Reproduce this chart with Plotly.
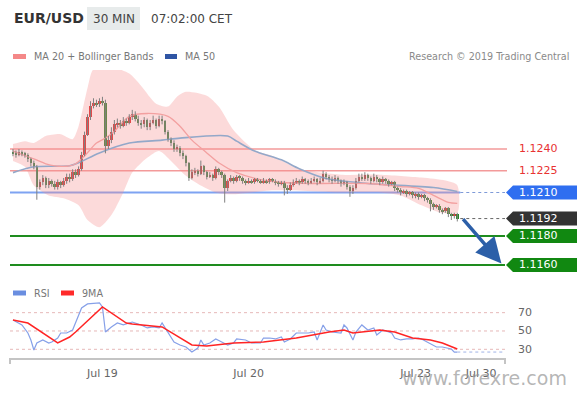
import plotly.graph_objects as go

# ---------------- data (prices in pips above BASE) ----------------
BASE = 1.12
PIP = 0.0001

opens_p = [38,37,36,38,37,36,33,30,28,14,
           17,20,15,18,16,14,17,15,18,21,
           19,24,22,26,36,50,62,70,72,71,
           73,72,42,46,52,57,58,56,59,58,
           62,64,61,58,57,60,55,58,60,56,
           61,59,52,47,44,40,41,37,35,30,
           20,24,25,23,28,24,21,22,20,26,
           24,22,13,18,20,18,21,20,18,17,
           18,17,19,18,17,18,17,19,18,17,
           16,17,13,12,15,17,18,17,19,18,
           17,18,19,17,18,23,21,19,18,20,
           18,16,17,14,11,13,18,21,19,22,
           20,18,21,19,17,19,18,16,17,13,
           12,10,11,9,10,8,9,7,8,6,
           5,2,0,1,-2,-3,-1,-5,-6,-5]
closes_p = [37,36,38,37,36,33,30,28,14,17,
            20,15,18,16,14,17,15,18,21,19,
            24,22,26,36,50,62,70,72,71,73,
            72,42,46,52,57,58,56,59,58,62,
            64,61,58,57,60,55,58,60,56,61,
            59,52,47,44,40,41,37,35,30,20,
            24,25,23,28,24,21,22,20,26,24,
            22,13,18,20,18,21,20,18,17,18,
            17,19,18,17,18,17,19,18,17,16,
            17,13,12,15,17,18,17,19,18,17,
            18,19,17,18,23,21,19,18,20,18,
            16,17,14,11,13,18,21,19,22,20,
            18,21,19,17,19,18,16,17,13,12,
            10,11,9,10,8,9,7,8,6,5,
            2,0,1,-2,-3,-1,-5,-6,-5,-8]
highs_p = [40,39,40,39,38,37,34,32,29,19,
           22,21,20,19,18,19,18,20,23,23,
           26,26,28,38,52,64,73,75,74,75,
           76,74,49,55,60,61,60,62,61,64,
           67,66,63,60,62,61,60,63,61,63,
           63,60,53,48,46,43,42,39,36,31,
           26,27,26,32,29,25,24,23,28,27,
           25,23,19,22,21,22,22,21,19,20,
           19,20,20,19,20,19,20,20,19,18,
           18,18,15,17,19,20,19,21,20,19,
           20,21,20,20,25,24,22,21,22,21,
           19,19,18,15,15,20,23,23,24,23,
           21,23,22,20,21,20,19,18,18,14,
           13,12,12,11,11,10,10,9,9,7,
           6,3,2,2,-1,0,0,-4,-4,-4]
lows_p = [35,34,35,35,34,31,28,26,5,12,
          15,13,13,14,12,12,13,14,16,17,
          18,20,21,25,35,49,60,68,69,69,
          70,37,40,44,50,55,54,55,56,57,
          60,59,56,54,55,53,53,57,54,55,
          57,50,45,42,38,38,35,33,28,18,
          19,22,21,22,22,19,20,18,19,22,
          20,3,11,17,16,17,18,16,15,16,
          16,16,17,16,16,16,16,17,15,14,
          15,8,9,11,14,16,15,16,16,15,
          16,17,15,16,17,19,17,16,17,16,
          14,15,12,7,9,12,17,18,18,18,
          16,17,17,15,16,16,14,15,11,10,
          8,9,7,8,6,6,5,6,4,3,
          -3,-2,-1,-4,-5,-4,-7,-9,-8,-10]

# indicator readings (candle index, pips)
bb_up_idx = [0,4,7,11,16,20,22,25,27,34,39,43,48,52,55,58,65,69,74,81,87,96,110,123,137,145,149]
bb_up_p = [43.4,45.4,44.1,48.9,50.2,46.8,55.7,82.0,95.0,96.0,92.0,83.5,71.3,69.3,76.1,79.5,76.8,69.3,52.9,39.3,35.2,26.4,22.3,22.3,20.3,18.2,15.0]
bb_lo_idx = [0,4,7,12,17,22,25,29,33,37,40,45,49,53,58,63,68,73,80,86,96,110,123,130,137,143,149]
bb_lo_p = [31.8,27.7,14.8,8.0,6.0,1.2,-9.0,-14.0,-5.6,10.0,23.7,33.9,38.6,31.8,21.6,14.8,10.0,8.7,10.0,11.4,11.4,10.0,10.0,8.0,1.2,-3.6,-4.0]
ma20_idx = [0,7,11,14,19,21,24,28,31,34,39,45,52,56,60,65,69,75,83,91,102,119,130,136,141,146,149]
ma20_p = [38.6,33.2,29.8,28.4,28.4,29.8,35.2,44.1,47.5,52.3,62.5,64.5,62.5,55.7,46.1,37.3,30.5,23.7,18.9,16.9,16.2,16.2,14.1,12.8,8.0,3.2,2.5]
ma50_idx = [0,7,19,22,29,39,50,56,72,75,81,90,96,105,119,141,149]
ma50_p = [23.7,27.7,28.4,30.5,37.3,44.1,46.1,47.5,48.9,45.4,38.6,32.5,26.4,19.6,16.2,13.4,10.7]

rsi_idx = [0,2,3,5,6,7,8,10,12,13,15,16,18,20,21,23,25,29,30,31,33,35,37,40,43,45,47,49,50,52,
           54,56,58,60,62,63,64,66,68,70,72,74,75,78,80,83,84,86,88,90,91,93,95,99,101,102,104,105,107,110,
           111,112,114,115,117,119,121,122,124,127,128,130,132,134,136,137,139,141,142,144,147,148,149]
rsi_val = [62.0,58.7,56.6,47.8,40.2,29.2,36.9,40.2,36.9,38.0,42.3,47.8,47.8,51.1,58.7,75.1,79.5,80.6,76.2,48.9,
           54.4,58.7,56.6,59.8,56.6,53.3,54.4,53.3,58.7,47.8,38.0,34.7,32.5,27.0,31.4,40.2,34.7,36.9,41.3,38.0,
           34.7,36.9,41.3,40.2,36.9,36.9,42.3,42.3,41.3,43.4,38.0,41.3,47.8,47.8,48.9,40.2,56.6,51.1,48.9,47.8,
           56.6,53.3,40.2,48.9,56.6,51.1,53.3,45.6,51.1,47.8,42.3,40.2,41.3,41.3,42.3,41.3,38.0,34.7,32.5,32.5,
           30.3,27.0,27.0]
ma9_idx = [0,5,15,19,21,30,38,40,50,60,65,74,84,95,106,111,114,117,123,128,134,140,144,149]
ma9_val = [62.0,58.7,36.9,43.4,48.9,76.2,58.7,57.7,54.4,34.7,33.6,36.9,38.0,42.3,48.9,51.1,47.8,48.9,51.1,48.9,42.3,40.2,36.9,30.3]

tick_pos = [30, 79, 135, 157]
tick_labels = ["Jul 19", "Jul 20", "Jul 23", "Jul 30"]

resist_levels = [1.1240, 1.1225]
pivot_level = 1.1210
last_price = 1.1192
support_levels = [1.1180, 1.1160]
target_price = 1.1161
rsi_levels = [70, 50, 30]

assert len(opens_p) == len(closes_p) == len(highs_p) == len(lows_p) == 150

# ---------------- helpers ----------------
def price(v):
    return BASE + v * PIP

X0, X1 = -1, 165           # x range (candle index)
def PX(p):                 # pixel x -> paper
    return (p - 10) / 495.0
def PY(p):                 # pixel y -> paper
    return (358 - p) / 288.0

FONT = "DejaVu Sans"
n = len(closes_p)
idx = list(range(n))
o = [price(v) for v in opens_p]
c = [price(v) for v in closes_p]
h = [price(v) for v in highs_p]
l = [price(v) for v in lows_p]

fig = go.Figure()

# Bollinger band fill
band_x = bb_up_idx + bb_lo_idx[::-1]
band_y = [price(v) for v in bb_up_p] + [price(v) for v in bb_lo_p][::-1]
fig.add_trace(go.Scatter(x=band_x, y=band_y, fill="toself", mode="lines",
                         line=dict(width=0, shape="spline", smoothing=0.7),
                         fillcolor="rgba(247,140,140,0.32)", hoverinfo="skip"))
fig.add_trace(go.Scatter(x=ma50_idx, y=[price(v) for v in ma50_p], mode="lines",
                         line=dict(color="#93a8c9", width=1.6, shape="spline", smoothing=0.8)))
fig.add_trace(go.Scatter(x=ma20_idx, y=[price(v) for v in ma20_p], mode="lines",
                         line=dict(color="#f3a0a0", width=1.3, shape="spline", smoothing=0.8)))

# wicks
wx, wy = [], []
for i in idx:
    wx += [i, i, None]
    wy += [l[i], h[i], None]
fig.add_trace(go.Scatter(x=wx, y=wy, mode="lines", line=dict(color="#808080", width=1),
                         hoverinfo="skip"))
# bodies
body_col = ["#d82c2c" if c[i] > o[i] else "#2b862b" for i in idx]
fig.add_trace(go.Bar(x=idx, y=[abs(c[i] - o[i]) for i in idx], base=[min(o[i], c[i]) for i in idx],
                     marker=dict(color=body_col, line=dict(width=0)), width=0.85))

# RSI panel
fig.add_trace(go.Scatter(x=rsi_idx, y=rsi_val, mode="lines", xaxis="x2", yaxis="y2",
                         line=dict(color="#86a0e8", width=1.2)))
fig.add_trace(go.Scatter(x=ma9_idx, y=ma9_val, mode="lines", xaxis="x2", yaxis="y2",
                         line=dict(color="#ff2424", width=1.5)))

shapes = []
# resistance lines
for lv in resist_levels:
    shapes.append(dict(type="line", xref="paper", yref="y", x0=0, x1=PX(507), y0=lv, y1=lv,
                       line=dict(color="#f39a9a", width=1.5), layer="below"))
# pivot
shapes.append(dict(type="line", xref="x", yref="y", x0=X0, x1=n, y0=pivot_level, y1=pivot_level,
                   line=dict(color="#7ea3f2", width=2), layer="below"))
shapes.append(dict(type="line", xref="x", yref="y", x0=n, x1=X1, y0=pivot_level, y1=pivot_level,
                   line=dict(color="#7e9ad8", width=1.2, dash="dot")))
# last price
shapes.append(dict(type="line", xref="x", yref="y", x0=n, x1=X1, y0=last_price, y1=last_price,
                   line=dict(color="#666666", width=1, dash="dot")))
# supports
for lv in support_levels:
    shapes.append(dict(type="line", xref="x", yref="y", x0=X0, x1=X1, y0=lv, y1=lv,
                       line=dict(color="#1e8c1e", width=2), layer="below"))

# right-hand labels
HH = 7 / 14500.0
def tag(level, color):
    xt, xb, xr = PX(506), PX(513), PX(577)
    path = (f"M {xt},{level} L {xb},{level + HH} L {xr},{level + HH} "
            f"L {xr},{level - HH} L {xb},{level - HH} Z")
    shapes.append(dict(type="path", xref="paper", yref="y", path=path,
                       fillcolor=color, line=dict(width=0)))

tag(pivot_level, "#2f6ef0")
tag(last_price, "#333333")
for lv in support_levels:
    tag(lv, "#118811")

annotations = []
for lv in resist_levels:
    annotations.append(dict(x=PX(517), y=lv, xref="paper", yref="y", xanchor="left", yanchor="middle",
                            text=f"{lv:.4f}", showarrow=False, font=dict(family=FONT, size=11, color="#e83232")))
for lv in [pivot_level, last_price] + support_levels:
    annotations.append(dict(x=PX(517), y=lv, xref="paper", yref="y", xanchor="left", yanchor="middle",
                            text=f"{lv:.4f}", showarrow=False, font=dict(family=FONT, size=11, color="white")))

# arrow
annotations.append(dict(x=X1 - 1.2, y=target_price, xref="x", yref="y", ax=n + 0.8, ay=last_price,
                        axref="x", ayref="y", text="", showarrow=True, arrowhead=2, arrowsize=1.45,
                        arrowwidth=3.5, arrowcolor="#2c5fa8", standoff=0, startstandoff=0,
                        font=dict(size=1), borderpad=0))

# RSI grid + labels
for lv in rsi_levels:
    shapes.append(dict(type="line", xref="x2", yref="y2", x0=X0, x1=X1, y0=lv, y1=lv,
                       line=dict(color="#e6b8b8", width=1, dash="dot"), layer="below"))
    annotations.append(dict(x=PX(516), y=lv, xref="paper", yref="y2", xanchor="left", yanchor="middle",
                            text=str(lv), showarrow=False, font=dict(family=FONT, size=11, color="#666")))
shapes.append(dict(type="line", xref="x2", yref="y2", x0=rsi_idx[-1], x1=X1, y0=rsi_val[-1], y1=rsi_val[-1],
                   line=dict(color="#9fb2e6", width=1, dash="dot")))
# axis end caps
for xx in (0, 1):
    shapes.append(dict(type="line", xref="paper", yref="paper", x0=xx, x1=xx, y0=PY(358), y1=PY(364),
                       line=dict(color="#c4c4c4", width=2)))

# header
shapes.append(dict(type="rect", xref="paper", yref="paper", x0=PX(87), x1=PX(140), y0=PY(30), y1=PY(7),
                   fillcolor="#e7ebeb", line=dict(width=0)))
annotations += [
    dict(x=PX(12), y=PY(18), xref="paper", yref="paper", xanchor="left", yanchor="middle", showarrow=False,
         text="<b>EUR/USD</b>", font=dict(family=FONT, size=14, color="#333")),
    dict(x=PX(113.5), y=PY(18.5), xref="paper", yref="paper", xanchor="center", yanchor="middle", showarrow=False,
         text="30 MIN", font=dict(family=FONT, size=12, color="#444")),
    dict(x=PX(149), y=PY(18.5), xref="paper", yref="paper", xanchor="left", yanchor="middle", showarrow=False,
         text="07:02:00 CET", font=dict(family=FONT, size=12, color="#444")),
]

# legends
def swatch(x0, x1, yc, color):
    shapes.append(dict(type="rect", xref="paper", yref="paper", x0=PX(x0), x1=PX(x1),
                       y0=PY(yc + 2.5), y1=PY(yc - 2.5), fillcolor=color, line=dict(width=0)))

def label(x, yc, text, color="#777", size=9.6, anchor="left"):
    annotations.append(dict(x=PX(x), y=PY(yc), xref="paper", yref="paper", xanchor=anchor, yanchor="middle",
                            showarrow=False, text=text, font=dict(family=FONT, size=size, color=color)))

swatch(13, 26, 56.5, "#f48888")
label(32, 56.5, "MA 20 + Bollinger Bands")
swatch(165, 177, 56.5, "#2f55a4")
label(183, 56.5, "MA 50")
label(571, 56.5, "Research © 2019 Trading Central", color="#8a8a8a", anchor="right")
swatch(13, 26, 293, "#6a8ee0")
label(32, 293, "RSI")
swatch(61, 74, 293, "#ff2a2a")
label(80, 293, "9MA")

# watermark
annotations.append(dict(x=PX(400), y=PY(378), xref="paper", yref="paper", xanchor="left", yanchor="middle",
                        showarrow=False, text="www.forexre.com",
                        font=dict(family=FONT, size=19, color="rgba(150,150,150,0.7)")))

fig.update_layout(
    width=580, height=393,
    margin=dict(l=10, r=75, t=70, b=35),
    paper_bgcolor="white", plot_bgcolor="white",
    showlegend=False, barmode="overlay", bargap=0,
    font=dict(family=FONT),
    xaxis=dict(domain=[0, 1], range=[X0, X1], anchor="y", visible=False),
    yaxis=dict(domain=[0.2778, 1], range=[1.11510, 1.12945], visible=False),
    xaxis2=dict(domain=[0, 1], range=[X0, X1], anchor="y2", showline=True, linecolor="#c4c4c4",
                linewidth=2, tickvals=tick_pos, ticktext=tick_labels, ticks="outside", ticklen=4,
                tickcolor="rgba(0,0,0,0)", tickfont=dict(family=FONT, size=11, color="#666"),
                showgrid=False, zeroline=False),
    yaxis2=dict(domain=[0, 0.2083], range=[20.5, 86], visible=False),
    shapes=shapes, annotations=annotations,
)

fig.write_html("out.html", config={"displayModeBar": False},
               post_script="document.body.style.margin='0';document.body.style.overflow='hidden';")
